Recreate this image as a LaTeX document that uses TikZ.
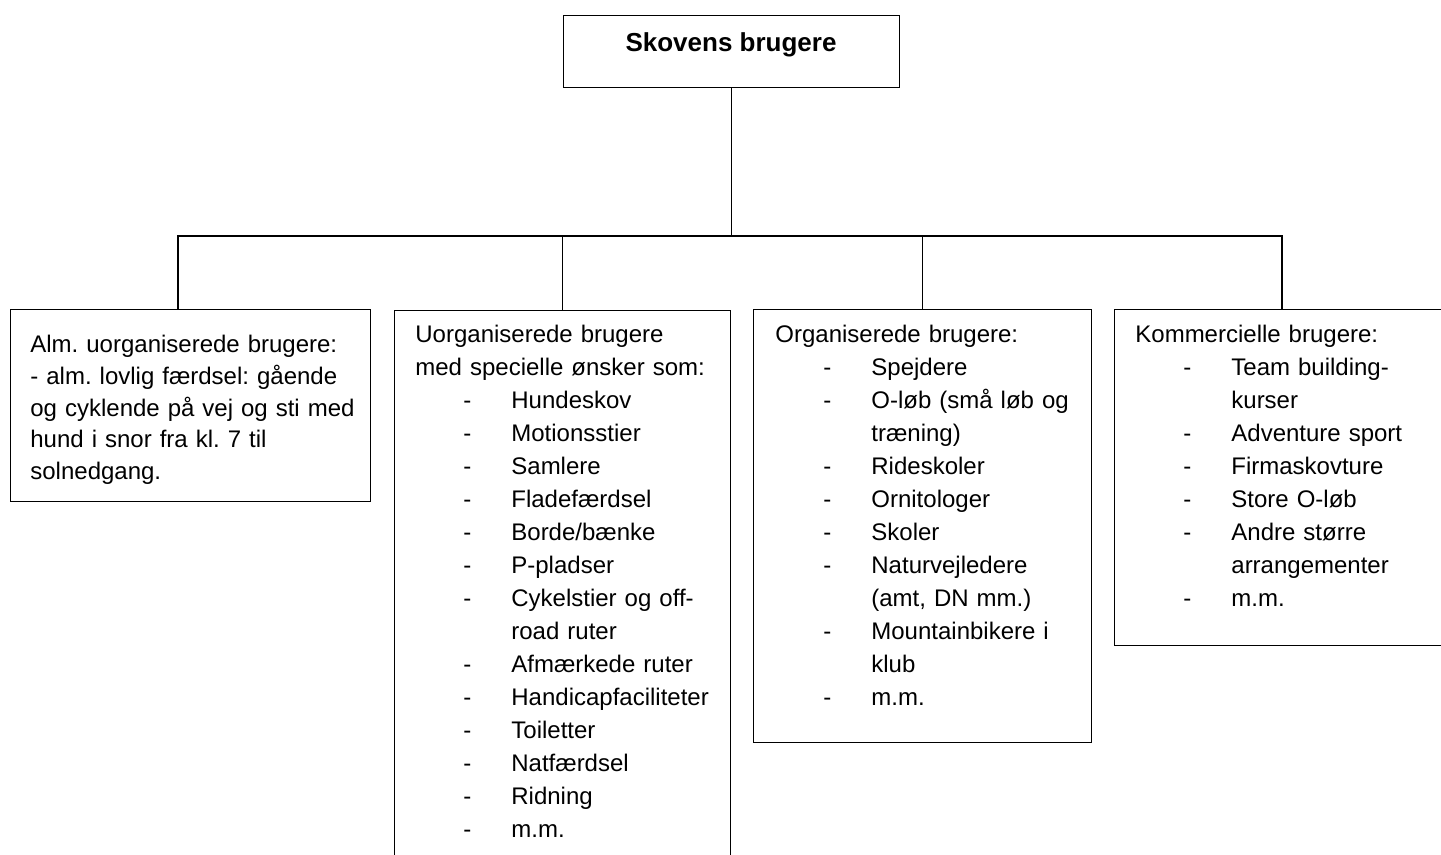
\documentclass[tikz,border=0pt]{standalone}
\usepackage{fontspec}
\setmainfont{Liberation Sans}
\usetikzlibrary{positioning}
\frenchspacing

\newcommand{\pkt}[1]{\hspace*{24pt}\makebox[24pt][l]{-}#1}
\newcommand{\fort}[1]{\hspace*{48pt}#1}

\begin{document}
\begin{tikzpicture}[
  x=0.5pt, y=-0.5pt,
  boks/.style={draw, line width=0.7pt, inner sep=0pt, anchor=north west},
  tekst/.style={anchor=base west, inner sep=0pt, text width=170pt, align=left, font=\fontsize{12pt}{16.5pt}\selectfont},
  linje/.style={line width=0.7pt}
]
\useasboundingbox (0,0) rectangle (1441,855);
\clip (0,0) rectangle (1441,855);

% Top box
\node[boks, minimum width=168pt, minimum height=36pt] (top) at (563,15) {};
\node[anchor=base, font=\bfseries\fontsize{13pt}{15pt}\selectfont] (titel) at (731,52) {Skovens brugere};

% User group boxes
\node[boks, minimum width=180pt, minimum height=96pt]   (b1) at (10,309) {};
\node[boks, minimum width=168pt, minimum height=300pt]  (b2) at (394,310) {};
\node[boks, minimum width=169pt, minimum height=216.5pt] (b3) at (753,309) {};
\node[boks, minimum width=168pt, minimum height=168pt]  (b4) at (1114,309) {};

% Connectors
\coordinate (v1) at (178,236);
\coordinate (v4) at (1282,236);
\draw[linje] (top.south) -- (top.south |- v1);
\draw[linje] (v1 |- b1.north) -- (v1) -- (v4) -- (v4 |- b4.north);
\draw[linje] (b2.north) -- (b2.north |- v1);
\draw[linje] (b3.north) -- (b3.north |- v1);

% Texts
\node[tekst, font=\fontsize{12pt}{15.8pt}\selectfont] (t1) at (30,353) {Alm. uorganiserede brugere:\\
- alm. lovlig færdsel: gående\\
og cyklende på vej og sti med\\
hund i snor fra kl. 7 til\\
solnedgang.};

\node[tekst] (t2) at (415,343) {Uorganiserede brugere\\
med specielle ønsker som:\\
\pkt{Hundeskov}\\
\pkt{Motionsstier}\\
\pkt{Samlere}\\
\pkt{Fladefærdsel}\\
\pkt{Borde/bænke}\\
\pkt{P-pladser}\\
\pkt{Cykelstier og off-}\\
\fort{road ruter}\\
\pkt{Afmærkede ruter}\\
\pkt{Handicapfaciliteter}\\
\pkt{Toiletter}\\
\pkt{Natfærdsel}\\
\pkt{Ridning}\\
\pkt{m.m.}};

\node[tekst] (t3) at (775,343) {Organiserede brugere:\\
\pkt{Spejdere}\\
\pkt{O-løb (små løb og}\\
\fort{træning)}\\
\pkt{Rideskoler}\\
\pkt{Ornitologer}\\
\pkt{Skoler}\\
\pkt{Naturvejledere}\\
\fort{(amt, DN mm.)}\\
\pkt{Mountainbikere i}\\
\fort{klub}\\
\pkt{m.m.}};

\node[tekst] (t4) at (1135,343) {Kommercielle brugere:\\
\pkt{Team building-}\\
\fort{kurser}\\
\pkt{Adventure sport}\\
\pkt{Firmaskovture}\\
\pkt{Store O-løb}\\
\pkt{Andre større}\\
\fort{arrangementer}\\
\pkt{m.m.}};
\end{tikzpicture}
\end{document}
